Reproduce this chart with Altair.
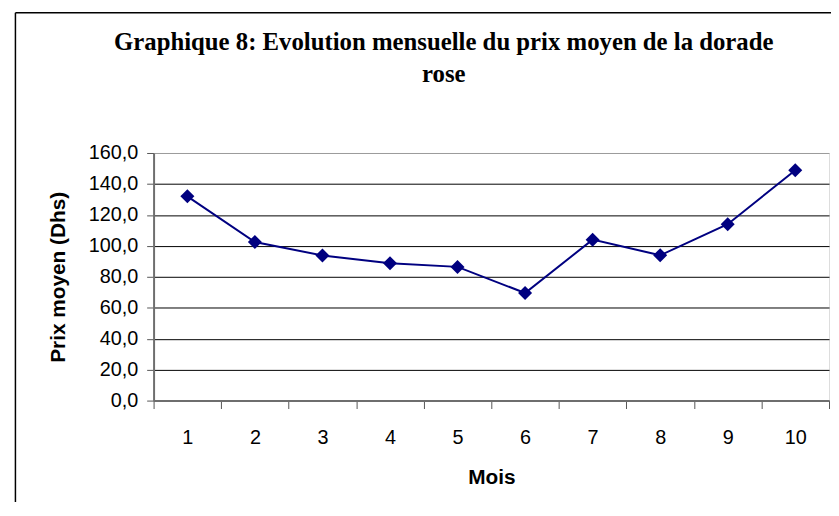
import altair as alt
import pandas as pd

mois = [1, 2, 3, 4, 5, 6, 7, 8, 9, 10]
prix = [132.0, 102.5, 93.8, 88.7, 86.4, 69.5, 104.0, 93.9, 114.0, 148.9]
y_ticks = [0, 20, 40, 60, 80, 100, 120, 140, 160]
x_ticks = [0.5, 1.5, 2.5, 3.5, 4.5, 5.5, 6.5, 7.5, 8.5, 9.5, 10.5]
title_lines = ["Graphique 8: Evolution mensuelle du prix moyen de la dorade", "rose"]

df = pd.DataFrame({"mois": mois, "prix": prix})

x_enc = alt.X(
    "mois:Q",
    scale=alt.Scale(domain=[0.5, 10.5], nice=False, zero=False),
    axis=alt.Axis(
        values=x_ticks,
        labelExpr="datum.value < 10 ? format(datum.value + 0.5, 'd') : ''",
        labelOffset=34.1,
        labelFlush=False,
        labelOverlap=False,
        grid=False,
        tickSize=8,
        tickColor="#555555",
        domainColor="#6e6e6e",
        domainWidth=2,
        labelFont="Liberation Sans",
        labelFontSize=20,
        labelColor="black",
        labelPadding=19,
        title="Mois",
        titleFont="Liberation Sans",
        titleFontSize=21,
        titleFontWeight="bold",
        titleColor="black",
        titlePadding=20,
    ),
)

y_enc = alt.Y(
    "prix:Q",
    scale=alt.Scale(domain=[0, 160], nice=False),
    axis=alt.Axis(
        values=y_ticks,
        tickCount=9,
        labelExpr="replace(format(datum.value, '.1f'), '.', ',')",
        labelOverlap=False,
        labelFlush=False,
        grid=True,
        gridColor={"condition": {"test": "datum.value >= 160", "value": "#9a9a9a"}, "value": "#000000"},
        gridWidth=1,
        tickSize=7,
        tickColor="#555555",
        domainColor="#6e6e6e",
        domainWidth=2,
        labelFont="Liberation Sans",
        labelFontSize=20,
        labelColor="black",
        labelPadding=9,
        title="Prix moyen (Dhs)",
        titleFont="Liberation Sans",
        titleFontSize=21,
        titleFontWeight="bold",
        titleColor="black",
        titlePadding=20,
    ),
)

base = alt.Chart(df).encode(x=x_enc, y=y_enc)
line = base.mark_line(color="#000080", strokeWidth=2)
pts = base.mark_point(shape="diamond", filled=True, color="#000080", size=200, opacity=1)

one = pd.DataFrame({"a": [0]})
frame_left = alt.Chart(one).mark_rule(color="black", strokeWidth=1.5).encode(
    x=alt.value(-139.5), y=alt.value(-141.5), y2=alt.value(400)
)
frame_top = alt.Chart(one).mark_rule(color="black", strokeWidth=1.5).encode(
    x=alt.value(-139.5), x2=alt.value(690), y=alt.value(-141.5)
)

chart = (
    alt.layer(line, pts, frame_left, frame_top)
    .properties(
        width=682,
        height=250,
        autosize=alt.AutoSizeParams(type="none"),
        padding={"left": 147, "top": 144, "right": 2, "bottom": 100},
        title=alt.TitleParams(
            text=title_lines,
            font="Liberation Serif",
            fontSize=25,
            fontWeight="bold",
            color="black",
            anchor="middle",
            dx=-48,
            lineHeight=33,
            offset=-76,
        ),
    )
    .configure_view(stroke="#9a9a9a", strokeWidth=2)
    .configure(background="white")
)

chart.save("out.html", embed_options={"renderer": "svg", "actions": False})
